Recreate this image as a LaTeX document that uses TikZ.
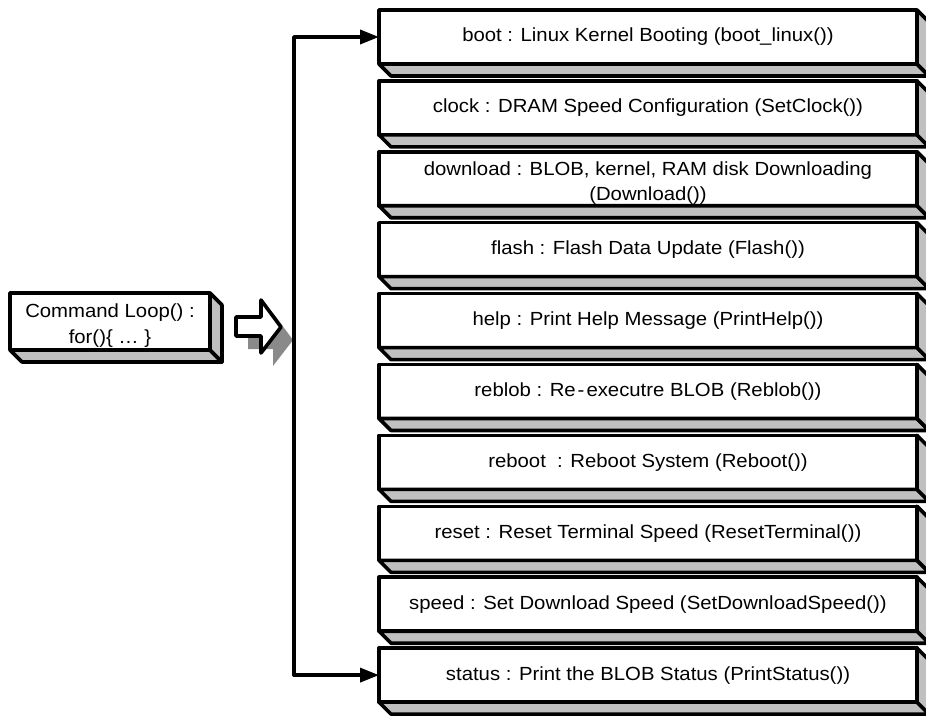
\documentclass[tikz,border=0pt]{standalone}
\usepackage{fontspec}
\setmainfont{Liberation Sans}[FakeStretch=1.07]
\usetikzlibrary{arrows.meta}
\definecolor{sidegray}{HTML}{C0C0C0}
\definecolor{shadowgray}{HTML}{8A8A8A}
\tikzset{
  face/.style={draw, line width=3.6pt, fill=white, inner sep=0pt, outer sep=0pt,
    align=center, line join=round, font=\fontsize{19}{25.5}\selectfont},
  cmdface/.style={face, minimum width=200pt, minimum height=57pt},
  itemface/.style={face, minimum width=538pt, minimum height=54pt},
  side/.style={draw, line width=3.6pt, fill=sidegray, line join=round},
  wire/.style={line width=3.6pt, line join=round,
    {Triangle[length=19pt,width=14pt]}-{Triangle[length=19pt,width=14pt]}},
  blockarrow/.style={draw, line width=3.6pt, fill=white, line join=round},
  blockshadow/.style={fill=shadowgray},
}
% bottom and right faces of a raised box
\newcommand{\extrude}[1]{%
  \draw[side] (#1.south west) -- (#1.south east) -- ([shift={(12,12)}]#1.south east)
    -- ([shift={(12,12)}]#1.south west) -- cycle;
  \draw[side] (#1.north east) -- ([shift={(12,12)}]#1.north east)
    -- ([shift={(12,12)}]#1.south east) -- (#1.south east) -- cycle;
}
% two-line label set slightly below the box centre
\newcommand{\twolines}[3]{\raisebox{-#1}[\height][\depth]{\begin{tabular}{@{}c@{}}#2\\#3\end{tabular}}}
\begin{document}
\begin{tikzpicture}[x=1pt,y=-1pt]
\useasboundingbox (0,0) rectangle (926,719);

% command loop box
\node[cmdface] (cmd) at (110,321.5) {\twolines{4pt}{Command Loop() :}{for()\{ \dots\ \}}};
\extrude{cmd}

% dispatch arrow with its shadow
\begin{scope}[shift={(12,13)}]
  \fill[blockshadow] (236,317) -- (261,317) -- (261,300) -- (281,327) -- (261,353)
    -- (261,336) -- (236,336) -- cycle;
\end{scope}
\draw[blockarrow] (236,317) -- (261,317) -- (261,300) -- (281,327) -- (261,353)
  -- (261,336) -- (236,336) -- cycle;

% command boxes
\foreach \i/\txt in {
  0/{boot : Linux Kernel Booting (boot\_linux())},
  1/{clock : DRAM Speed Configuration (SetClock())},
  2/{\twolines{4pt}{download : BLOB, kernel, RAM disk Downloading}{(Download())}},
  3/{flash : Flash Data Update (Flash())},
  4/{help : Print Help Message (PrintHelp())},
  5/{reblob : Re\hspace{2pt}-\hspace{2pt}executre BLOB (Reblob())},
  6/{reboot \ : Reboot System (Reboot())},
  7/{reset : Reset Terminal Speed (ResetTerminal())},
  8/{speed : Set Download Speed (SetDownloadSpeed())},
  9/{status : Print the BLOB Status (PrintStatus())}}{
  \node[itemface] (b\i) at (648,{37+70.9*\i}) {\txt};
  \extrude{b\i}
}

% trunk line feeding the first and last boxes
\path (b0.west) ++(-85,0) coordinate (jt);
\path (b9.west) ++(-85,0) coordinate (jb);
\draw[wire] (b0.west) -- (jt) -- (jb) -- (b9.west);
\end{tikzpicture}
\end{document}
